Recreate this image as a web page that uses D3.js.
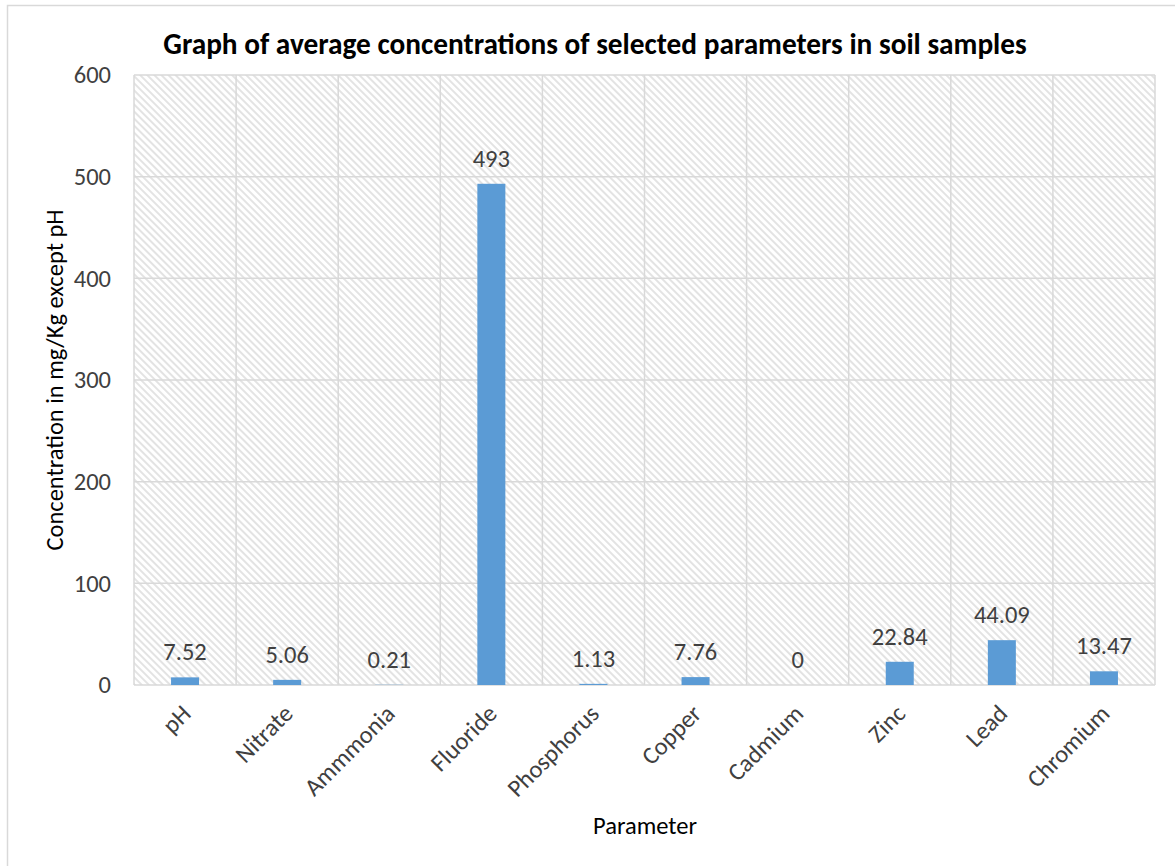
<!DOCTYPE html>
<html>
<head>
<meta charset="utf-8">
<script src="https://cdn.jsdelivr.net/npm/d3@7"></script>
<style>
  html, body { margin: 0; padding: 0; background: #fff; }
  svg { display: block; font-family: Carlito, "Open Sans", "Noto Sans", sans-serif; }
</style>
</head>
<body>
<svg id="chart" width="1175" height="866"></svg>
<script>
// Average concentrations of soil parameters
const categories = ["pH", "Nitrate", "Ammmonia", "Fluoride", "Phosphorus", "Copper", "Cadmium", "Zinc", "Lead", "Chromium"];
const values = [7.52, 5.06, 0.21, 493, 1.13, 7.76, 0, 22.84, 44.09, 13.47];
const valueLabels = ["7.52", "5.06", "0.21", "493", "1.13", "7.76", "0", "22.84", "44.09", "13.47"];
const yTicks = [0, 100, 200, 300, 400, 500, 600];

const svg = d3.select("#chart");
const margin = { left: 134, right: 1155, top: 75, bottom: 685 };
const textColor = "#404040";
const gridColor = "#d9d9d9";
const fontSize = "24.5px";

// chart area frame
svg.append("rect")
  .attr("x", 7.5).attr("y", 5.5)
  .attr("width", 1200).attr("height", 900)
  .attr("fill", "#fff").attr("stroke", "#d9d9d9").attr("stroke-width", 1.5);

// diagonal hatch fill for the plot area
const defs = svg.append("defs");
const pat = defs.append("pattern")
  .attr("id", "hatch")
  .attr("patternUnits", "userSpaceOnUse")
  .attr("width", 5).attr("height", 5)
  .attr("patternTransform", "rotate(-45)");
pat.append("rect").attr("width", 5).attr("height", 5).attr("fill", "#fff");
pat.append("rect").attr("x", 0).attr("y", 0).attr("width", 2).attr("height", 5).attr("fill", "#e3e3e3");

const x = d3.scaleBand()
  .domain(categories)
  .range([margin.left, margin.right])
  .paddingInner(0).paddingOuter(0);

const y = d3.scaleLinear()
  .domain([0, 600])
  .range([margin.bottom, margin.top]);

svg.append("rect")
  .attr("x", margin.left).attr("y", margin.top)
  .attr("width", margin.right - margin.left)
  .attr("height", margin.bottom - margin.top)
  .attr("fill", "url(#hatch)");

// gridlines
svg.append("g").selectAll("line.h")
  .data(yTicks)
  .join("line")
  .attr("x1", margin.left).attr("x2", margin.right)
  .attr("y1", d => y(d)).attr("y2", d => y(d))
  .attr("stroke", gridColor).attr("stroke-width", 1.5);

const vLines = categories.map(c => x(c)).concat([margin.right]);
svg.append("g").selectAll("line.v")
  .data(vLines)
  .join("line")
  .attr("x1", d => d).attr("x2", d => d)
  .attr("y1", margin.top).attr("y2", margin.bottom)
  .attr("stroke", gridColor).attr("stroke-width", 1.5);

// y axis labels
const yAxis = d3.axisLeft(y).tickValues(yTicks).tickSize(0).tickPadding(23);
const gy = svg.append("g").attr("transform", `translate(${margin.left},0)`).call(yAxis);
gy.select(".domain").remove();
gy.selectAll("text")
  .attr("fill", textColor)
  .style("font-size", fontSize)
  .style("font-family", 'Carlito, "Open Sans", "Noto Sans", sans-serif');

// bars
const barW = 28;
svg.append("g").selectAll("rect.bar")
  .data(categories)
  .join("rect")
  .attr("x", d => x(d) + x.bandwidth() / 2 - barW / 2)
  .attr("width", barW)
  .attr("y", (d, i) => y(values[i]))
  .attr("height", (d, i) => y(0) - y(values[i]))
  .attr("fill", "#5b9bd5");

// value labels
svg.append("g").selectAll("text.val")
  .data(categories)
  .join("text")
  .attr("x", d => x(d) + x.bandwidth() / 2)
  .attr("y", (d, i) => y(values[i]) - 17)
  .attr("text-anchor", "middle")
  .attr("fill", textColor)
  .style("font-size", fontSize)
  .text((d, i) => valueLabels[i]);

// category labels, rotated
svg.append("g").selectAll("text.cat")
  .data(categories)
  .join("text")
  .attr("transform", d => `translate(${x(d) + x.bandwidth() / 2 - 5},${margin.bottom + 18}) rotate(-45)`)
  .attr("text-anchor", "end")
  .attr("dy", "0.7em")
  .attr("fill", textColor)
  .style("font-size", fontSize)
  .text(d => d);

// title
svg.append("text")
  .attr("x", 595).attr("y", 54)
  .attr("text-anchor", "middle")
  .attr("fill", "#000")
  .style("font-size", "29.3px")
  .style("font-weight", "bold")
  .text("Graph of average concentrations of selected parameters in soil samples");

// axis titles
svg.append("text")
  .attr("transform", `translate(63,${(margin.top + margin.bottom) / 2}) rotate(-90)`)
  .attr("text-anchor", "middle")
  .attr("fill", "#000")
  .style("font-size", fontSize)
  .text("Concentration in mg/Kg except pH");

svg.append("text")
  .attr("x", 645).attr("y", 834)
  .attr("text-anchor", "middle")
  .attr("fill", "#000")
  .style("font-size", fontSize)
  .text("Parameter");
</script>
</body>
</html>
